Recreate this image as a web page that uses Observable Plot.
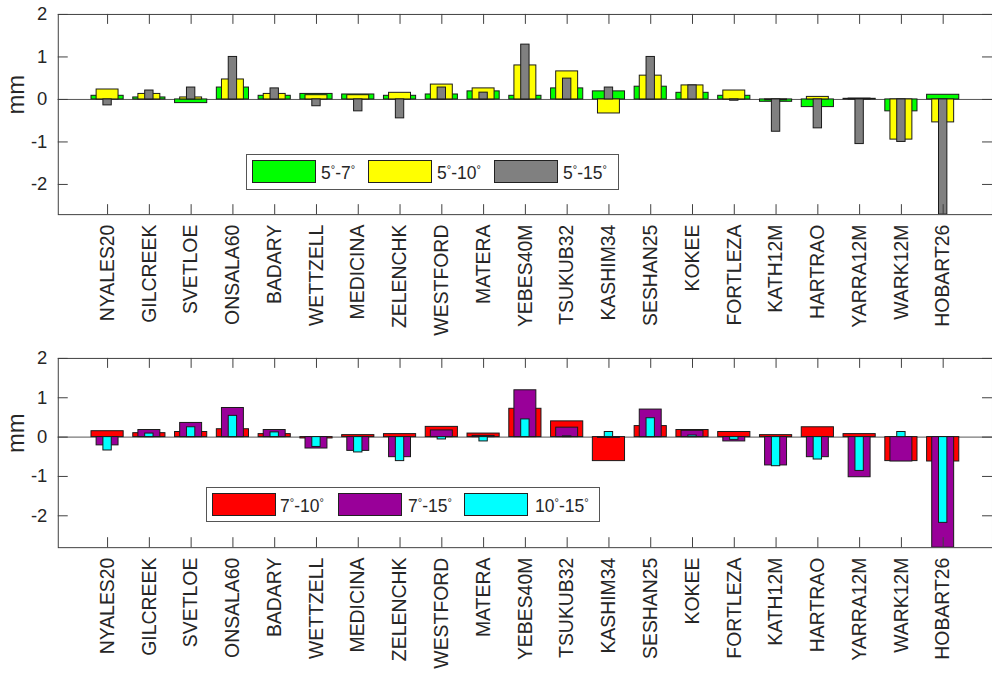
<!DOCTYPE html>
<html>
<head>
<meta charset="utf-8">
<script src="https://cdn.jsdelivr.net/npm/d3@7"></script>
<script src="https://cdn.jsdelivr.net/npm/@observablehq/plot@0.6"></script>
<style>
  html, body { margin: 0; padding: 0; background: #fff; overflow: hidden; }
  #wrap { position: relative; width: 992px; height: 673px; overflow: hidden; font-family: "Liberation Sans", Arial, Helvetica, sans-serif; }
  #wrap svg { display: block; }
  .legend { position: absolute; background: #fff; border: 1px solid #555; box-sizing: border-box; }
  .sw { position: absolute; width: 64px; height: 23px; border: 1px solid #222; box-sizing: border-box; }
  .lt { position: absolute; font-size: 17.5px; color: #262626; line-height: 17px; white-space: nowrap; }
  .deg { font-size: 11px; position: relative; top: -6px; }
</style>
</head>
<body>
<div id="wrap">
  <div id="top"></div>
  <div id="bot"></div>
</div>
<script>
const stations = ["NYALES20","GILCREEK","SVETLOE","ONSALA60","BADARY","WETTZELL","MEDICINA","ZELENCHK","WESTFORD","MATERA","YEBES40M","TSUKUB32","KASHIM34","SESHAN25","KOKEE","FORTLEZA","KATH12M","HARTRAO","YARRA12M","WARK12M","HOBART26"];

// top panel
const s5_7   = [0.086, 0.047, -0.086, 0.28, 0.086, 0.13, 0.117, 0.086, 0.117, 0.19, 0.086, 0.26, 0.19, 0.30, 0.156, 0.086, -0.055, -0.18, 0.015, -0.28, 0.11];
const s5_10  = [0.234, 0.13, 0.047, 0.47, 0.13, 0.10, 0.10, 0.156, 0.35, 0.26, 0.80, 0.66, -0.33, 0.56, 0.33, 0.21, -0.02, 0.06, 0.02, -0.945, -0.54];
const s5_15  = [-0.14, 0.21, 0.28, 1.0, 0.26, -0.16, -0.28, -0.445, 0.28, 0.16, 1.29, 0.49, 0.28, 1.0, 0.33, -0.03, -0.76, -0.68, -1.05, -1.0, -2.71];
// bottom panel
const s7_10  = [0.15, 0.10, 0.13, 0.20, 0.076, -0.034, 0.05, 0.076, 0.26, 0.09, 0.72, 0.40, -0.61, 0.28, 0.18, 0.13, 0.05, 0.25, 0.076, -0.61, -0.62];
const s7_15  = [-0.21, 0.18, 0.36, 0.74, 0.18, -0.29, -0.35, -0.51, 0.17, 0.03, 1.19, 0.24, -0.02, 0.70, 0.16, -0.11, -0.72, -0.51, -1.02, -0.62, -2.81];
const s10_15 = [-0.34, 0.09, 0.25, 0.54, 0.12, -0.25, -0.39, -0.61, -0.06, -0.11, 0.45, 0.02, 0.13, 0.48, 0.04, -0.07, -0.74, -0.57, -0.86, 0.13, -2.18];

const yTicks = [-2, -1, 0, 1, 2];
const topSeries = [
  {name: "5-7", values: s5_7, color: "#00ff00", width: 0.77},
  {name: "5-10", values: s5_10, color: "#ffff00", width: 0.525},
  {name: "5-15", values: s5_15, color: "#808080", width: 0.2}
];
const botSeries = [
  {name: "7-10", values: s7_10, color: "#ff0000", width: 0.77},
  {name: "7-15", values: s7_15, color: "#990099", width: 0.525},
  {name: "10-15", values: s10_15, color: "#00ffff", width: 0.2}
];

const FONT = "'Liberation Sans', Arial, Helvetica, sans-serif";
const AX = "#404040";

function panel(series, opts) {
  const idx = stations.map((_, i) => i);
  const ymin = d3.min(series.flatMap(s => s.values));
  const W = 996, mL = 58, mR = 0;
  const plotW = W - mL - mR;
  const plotH = opts.height - opts.marginTop - opts.marginBottom;
  const bars = series.map(s => Plot.rectY(
    s.values.map((v, i) => ({i, v})),
    {x1: d => d.i - s.width / 2, x2: d => d.i + s.width / 2, y1: 0, y2: d => d.v,
     fill: s.color, stroke: "#1a1a1a", strokeWidth: 1, clip: true}
  ));
  return Plot.plot({
    width: W,
    height: opts.height,
    marginLeft: mL,
    marginRight: mR,
    marginTop: opts.marginTop,
    marginBottom: opts.marginBottom,
    style: {fontFamily: FONT, color: "#262626", background: "transparent", overflow: "visible"},
    x: {domain: [-1.18, 21.18]},
    y: {domain: [ymin, 2]},
    marks: [
      Plot.ruleY([0], {stroke: "#555", strokeWidth: 1}),
      ...bars,
      Plot.frame({stroke: AX, strokeWidth: 1}),
      Plot.tickX(idx, {x: d => d, insetTop: plotH - 10, stroke: AX}),
      Plot.tickX(idx, {x: d => d, insetBottom: plotH - 10, stroke: AX}),
      Plot.tickY(yTicks, {y: d => d, insetRight: plotW - 10, stroke: AX}),
      Plot.tickY(yTicks, {y: d => d, insetLeft: plotW - 10, stroke: AX}),
      Plot.axisX({ticks: idx, tickFormat: i => stations[i], tickRotate: -90, tickSize: 0,
                  tickPadding: 10, fontSize: 19.5, label: null, anchor: "bottom"}),
      Plot.axisY({ticks: yTicks, tickFormat: d => String(d), tickSize: 0, tickPadding: 11,
                  fontSize: 18.5, label: null, anchor: "left"}),
      Plot.text(["mm"], {frameAnchor: "left", rotate: -90, dx: -42, fontSize: 24, fill: "#262626"})
    ]
  });
}

document.getElementById("top").append(panel(topSeries, {height: 340, marginTop: 14, marginBottom: 125}));
document.getElementById("bot").append(panel(botSeries, {height: 333, marginTop: 19, marginBottom: 124}));

function legend(series, labels, box, swLefts, txtLefts) {
  const el = document.createElement("div");
  el.className = "legend";
  Object.assign(el.style, {left: box.left + "px", top: box.top + "px", width: box.width + "px", height: box.height + "px"});
  series.forEach((s, k) => {
    const sw = document.createElement("div");
    sw.className = "sw";
    Object.assign(sw.style, {left: swLefts[k] + "px", top: box.swTop + "px", background: s.color});
    el.append(sw);
    const t = document.createElement("div");
    t.className = "lt";
    t.innerHTML = labels[k];
    Object.assign(t.style, {left: txtLefts[k] + "px", top: box.txtTop + "px"});
    el.append(t);
  });
  document.getElementById("wrap").append(el);
}
const D = '<span class="deg">°</span>';
const topLabels = ["5" + D + "-7" + D, "5" + D + "-10" + D, "5" + D + "-15" + D];
const botLabels = ["7" + D + "-10" + D, "7" + D + "-15" + D, "10" + D + "-15" + D];
legend(topSeries, topLabels, {left: 246, top: 154, width: 373, height: 36, swTop: 5, txtTop: 10}, [5, 121, 247], [74, 190, 316]);
legend(botSeries, botLabels, {left: 206, top: 487, width: 394, height: 35, swTop: 5, txtTop: 10}, [5, 131, 257], [73, 201, 328]);
</script>
</body>
</html>
